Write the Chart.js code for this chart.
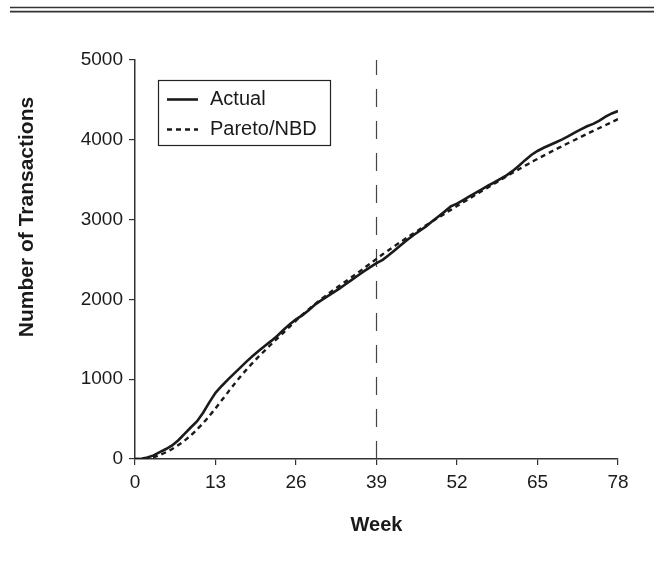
<!DOCTYPE html>
<html>
<head>
<meta charset="utf-8">
<script src="https://cdn.jsdelivr.net/npm/chart.js@4.4.1/dist/chart.umd.min.js"></script>
<style>
  html, body { margin: 0; padding: 0; background: #fff; }
  #wrap { width: 654px; height: 566px; position: relative; }
</style>
</head>
<body>
<div id="wrap"><canvas id="graficoTransacoes" width="654" height="566"></canvas></div>
<script>
// weeks since start of the observation period
const semanas = [
  0, 1, 2, 3, 4, 5, 6, 7, 8, 9, 10, 11, 12, 13, 14, 15, 16, 17, 18, 19,
  20, 21, 22, 23, 24, 25, 26, 27, 28, 29, 30, 31, 32, 33, 34, 35, 36, 37, 38, 39,
  40, 41, 42, 43, 44, 45, 46, 47, 48, 49, 50, 51, 52, 53, 54, 55, 56, 57, 58, 59,
  60, 61, 62, 63, 64, 65, 66, 67, 68, 69, 70, 71, 72, 73, 74, 75, 76, 77, 78
];

// cumulative repeat transactions, observed
const transacoesReais = [
  0, 4, 20, 45, 85, 125, 170, 235, 315, 395, 470, 580, 710, 830, 915, 995, 1070, 1145, 1220, 1290,
  1355, 1420, 1480, 1545, 1620, 1690, 1750, 1800, 1860, 1930, 1985, 2035, 2085, 2135, 2190, 2245, 2300, 2355, 2405, 2455,
  2495, 2555, 2620, 2685, 2748, 2807, 2860, 2915, 2980, 3040, 3100, 3165, 3200, 3245, 3290, 3335, 3380, 3425, 3465, 3510,
  3555, 3610, 3675, 3745, 3810, 3860, 3900, 3935, 3970, 4005, 4045, 4090, 4130, 4170, 4200, 4240, 4290, 4330, 4360
];

// cumulative repeat transactions, Pareto/NBD model
const transacoesModelo = [
  0, 2, 10, 25, 50, 85, 125, 175, 230, 295, 370, 450, 540, 635, 735, 835, 935, 1030, 1120, 1205,
  1285, 1362, 1438, 1512, 1585, 1660, 1735, 1805, 1872, 1936, 1998, 2058, 2115, 2170, 2225, 2280, 2335, 2392, 2450, 2508,
  2565, 2620, 2673, 2725, 2777, 2828, 2878, 2928, 2977, 3026, 3074, 3122, 3170, 3217, 3264, 3311, 3358, 3404, 3450, 3496,
  3542, 3587, 3632, 3676, 3719, 3761, 3802, 3842, 3882, 3921, 3960, 3998, 4036, 4074, 4111, 4148, 4185, 4222, 4258
];

const fimCalibracao = 39; // end of calibration period
const ticksX = [0, 13, 26, 39, 52, 65, 78];
const ticksY = [0, 1000, 2000, 3000, 4000, 5000];

const FONTE = "'Liberation Sans', Arial, Helvetica, sans-serif";
const PRETO = "#1a1a1a";

function montarPontos(xs, ys) {
  let pontos = [];
  for (let i = 0; i < xs.length; i++) {
    pontos.push({ x: xs[i], y: ys[i] });
  }
  return pontos;
}

// double rule at the top of the figure
const regraTopo = {
  id: "regraTopo",
  beforeDraw(chart) {
    const ctx = chart.ctx;
    ctx.save();
    ctx.strokeStyle = "#333";
    ctx.lineWidth = 1.7;
    ctx.beginPath();
    ctx.moveTo(10, 7.5);
    ctx.lineTo(chart.width, 7.5);
    ctx.moveTo(10, 11.6);
    ctx.lineTo(chart.width, 11.6);
    ctx.stroke();
    ctx.restore();
  },
};

// axis titles (y title sits above the axis centre)
const titulosEixos = {
  id: "titulosEixos",
  afterDraw(chart) {
    const ctx = chart.ctx;
    const area = chart.chartArea;
    ctx.save();
    ctx.fillStyle = PRETO;
    ctx.font = "bold 20px " + FONTE;
    ctx.textAlign = "center";
    ctx.textBaseline = "middle";
    ctx.fillText("Week", (area.left + area.right) / 2, 525);
    ctx.font = "bold 21px " + FONTE;
    ctx.translate(27, 217);
    ctx.rotate(-Math.PI / 2);
    ctx.fillText("Number of Transactions", 0, 0);
    ctx.restore();
  },
};

// boxed legend inside the plot area
const legendaCaixa = {
  id: "legendaCaixa",
  afterDraw(chart) {
    const ctx = chart.ctx;
    const area = chart.chartArea;
    const x0 = area.left + 23;
    const y0 = area.top + 20;
    ctx.save();
    ctx.strokeStyle = "#222";
    ctx.lineWidth = 1.2;
    ctx.strokeRect(x0 + 0.5, y0 + 0.5, 172, 65);
    ctx.font = "20px " + FONTE;
    ctx.textBaseline = "middle";
    ctx.fillStyle = PRETO;
    const itens = chart.data.datasets.filter((d) => !d.semLegenda);
    itens.forEach((d, i) => {
      const y = y0 + 19.5 + i * 30;
      ctx.strokeStyle = d.borderColor;
      ctx.lineWidth = d.borderWidth;
      ctx.setLineDash(d.borderDash || []);
      ctx.beginPath();
      ctx.moveTo(x0 + 9, y);
      ctx.lineTo(x0 + 40, y);
      ctx.stroke();
      ctx.setLineDash([]);
      ctx.fillText(d.label, x0 + 52, y);
    });
    ctx.restore();
  },
};

function gerarGrafico() {
  new Chart(document.getElementById("graficoTransacoes"), {
    type: "line",
    data: {
      datasets: [
        {
          label: "Actual",
          data: montarPontos(semanas, transacoesReais),
          borderColor: PRETO,
          borderWidth: 2.6,
          tension: 0,
          fill: false,
          pointRadius: 0,
        },
        {
          label: "Pareto/NBD",
          data: montarPontos(semanas, transacoesModelo),
          borderColor: PRETO,
          borderWidth: 2.4,
          borderDash: [5, 4], // linha tracejada
          tension: 0.3,
          fill: false,
          pointRadius: 0,
        },
        {
          label: "calibração",
          semLegenda: true,
          data: [
            { x: fimCalibracao, y: ticksY[0] },
            { x: fimCalibracao, y: ticksY[ticksY.length - 1] },
          ],
          borderColor: "#444",
          borderWidth: 1.2,
          borderDash: [18, 14],
          fill: false,
          pointRadius: 0,
        },
      ],
    },
    plugins: [regraTopo, titulosEixos, legendaCaixa],
    options: {
      responsive: false,
      animation: false,
      events: [],
      layout: { padding: { top: 60, right: 36, left: 0, bottom: 0 } },
      plugins: {
        legend: { display: false },
        tooltip: { enabled: false },
      },
      scales: {
        x: {
          type: "linear",
          min: ticksX[0],
          max: ticksX[ticksX.length - 1],
          afterFit: (s) => { s.height = 107; },
          afterBuildTicks: (s) => { s.ticks = ticksX.map((v) => ({ value: v })); },
          grid: { display: true, drawOnChartArea: false, drawTicks: true, tickLength: 6, color: "#333", lineWidth: 1.2 },
          border: { display: true, color: "#333", width: 1.5 },
          ticks: { color: PRETO, font: { family: FONTE, size: 19 }, padding: 6, maxRotation: 0, callback: (v) => String(v) },
        },
        y: {
          min: ticksY[0],
          max: ticksY[ticksY.length - 1],
          afterFit: (s) => { s.width = 135; },
          afterBuildTicks: (s) => { s.ticks = ticksY.map((v) => ({ value: v })); },
          grid: { display: true, drawOnChartArea: false, drawTicks: true, tickLength: 6, color: "#333", lineWidth: 1.2 },
          border: { display: true, color: "#333", width: 1.5 },
          ticks: { color: PRETO, font: { family: FONTE, size: 19 }, padding: 6, callback: (v) => String(v) },
        },
      },
    },
  });
}

gerarGrafico();
</script>
</body>
</html>
